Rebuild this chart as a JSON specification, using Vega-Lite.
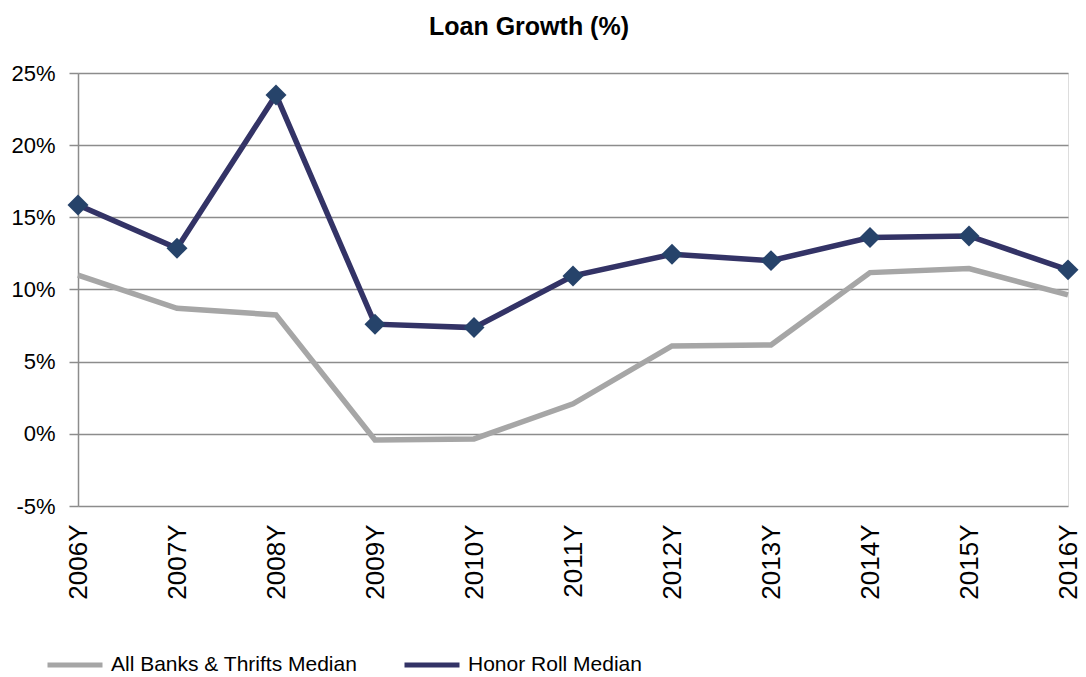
{
  "$schema": "https://vega.github.io/schema/vega-lite/v6.json",
  "autosize": {"type": "none"},
  "width": 990,
  "height": 433,
  "padding": {"left": 78, "top": 73, "right": 18, "bottom": 171},
  "background": "white",
  "title": {
    "text": "Loan Growth (%)",
    "font": "Liberation Sans",
    "fontSize": 25,
    "fontWeight": "bold",
    "color": "#000000",
    "anchor": "middle",
    "dx": -44,
    "offset": 22
  },
  "data": {
    "values": [
      {"year": "2006Y", "series": "All Banks & Thrifts Median", "value": 0.1100},
      {"year": "2007Y", "series": "All Banks & Thrifts Median", "value": 0.0870},
      {"year": "2008Y", "series": "All Banks & Thrifts Median", "value": 0.0824},
      {"year": "2009Y", "series": "All Banks & Thrifts Median", "value": -0.0042},
      {"year": "2010Y", "series": "All Banks & Thrifts Median", "value": -0.0035},
      {"year": "2011Y", "series": "All Banks & Thrifts Median", "value": 0.0208},
      {"year": "2012Y", "series": "All Banks & Thrifts Median", "value": 0.0609},
      {"year": "2013Y", "series": "All Banks & Thrifts Median", "value": 0.0616},
      {"year": "2014Y", "series": "All Banks & Thrifts Median", "value": 0.1117},
      {"year": "2015Y", "series": "All Banks & Thrifts Median", "value": 0.1145},
      {"year": "2016Y", "series": "All Banks & Thrifts Median", "value": 0.0963},
      {"year": "2006Y", "series": "Honor Roll Median", "value": 0.1586},
      {"year": "2007Y", "series": "Honor Roll Median", "value": 0.1286},
      {"year": "2008Y", "series": "Honor Roll Median", "value": 0.2348},
      {"year": "2009Y", "series": "Honor Roll Median", "value": 0.0760},
      {"year": "2010Y", "series": "Honor Roll Median", "value": 0.0736},
      {"year": "2011Y", "series": "Honor Roll Median", "value": 0.1094},
      {"year": "2012Y", "series": "Honor Roll Median", "value": 0.1244},
      {"year": "2013Y", "series": "Honor Roll Median", "value": 0.1200},
      {"year": "2014Y", "series": "Honor Roll Median", "value": 0.1360},
      {"year": "2015Y", "series": "Honor Roll Median", "value": 0.1371},
      {"year": "2016Y", "series": "Honor Roll Median", "value": 0.1136}
    ]
  },
  "encoding": {
    "x": {
      "field": "year",
      "type": "ordinal",
      "scale": {"type": "point", "padding": 0},
      "axis": {
        "title": null,
        "labelAngle": -90,
        "labelAlign": "right",
        "labelBaseline": "middle",
        "labelFont": "Liberation Sans",
        "labelFontSize": 26,
        "labelColor": "#000000",
        "labelPadding": 18,
        "ticks": false,
        "domain": false,
        "grid": false
      }
    },
    "y": {
      "field": "value",
      "type": "quantitative",
      "scale": {"domain": [-0.05, 0.25], "nice": false, "zero": false},
      "axis": {
        "title": null,
        "values": [-0.05, 0, 0.05, 0.1, 0.15, 0.2, 0.25],
        "format": ".0%",
        "labelExpr": "replace(datum.label, '\u2212', '-')",
        "labelFont": "Liberation Sans",
        "labelFontSize": 22,
        "labelColor": "#000000",
        "labelPadding": 14,
        "tickSize": 9,
        "tickColor": "#8c8c8c",
        "tickWidth": 1.5,
        "domain": true,
        "domainColor": "#8c8c8c",
        "domainWidth": 1.5,
        "grid": true,
        "gridColor": "#8c8c8c",
        "gridWidth": 1.5
      }
    }
  },
  "layer": [
    {
      "mark": {"type": "line", "strokeWidth": 5.5, "strokeJoin": "miter"},
      "encoding": {
        "color": {
          "field": "series",
          "type": "nominal",
          "scale": {
            "domain": ["All Banks & Thrifts Median", "Honor Roll Median"],
            "range": ["#a6a6a6", "#333366"]
          },
          "legend": {
            "title": null,
            "orient": "none",
            "legendX": -33,
            "legendY": 562,
            "direction": "horizontal",
            "padding": 0,
            "columnPadding": 36,
            "labelFont": "Liberation Sans",
            "labelFontSize": 21,
            "labelColor": "#000000",
            "labelOffset": 6,
            "symbolType": "stroke",
            "symbolSize": 3025,
            "symbolStrokeWidth": 5,
            "labelLimit": 400
          }
        }
      }
    },
    {
      "transform": [{"filter": "datum.series === 'Honor Roll Median'"}],
      "mark": {"type": "point", "shape": "diamond", "filled": true, "size": 440, "color": "#26436a", "opacity": 1}
    }
  ]
}
